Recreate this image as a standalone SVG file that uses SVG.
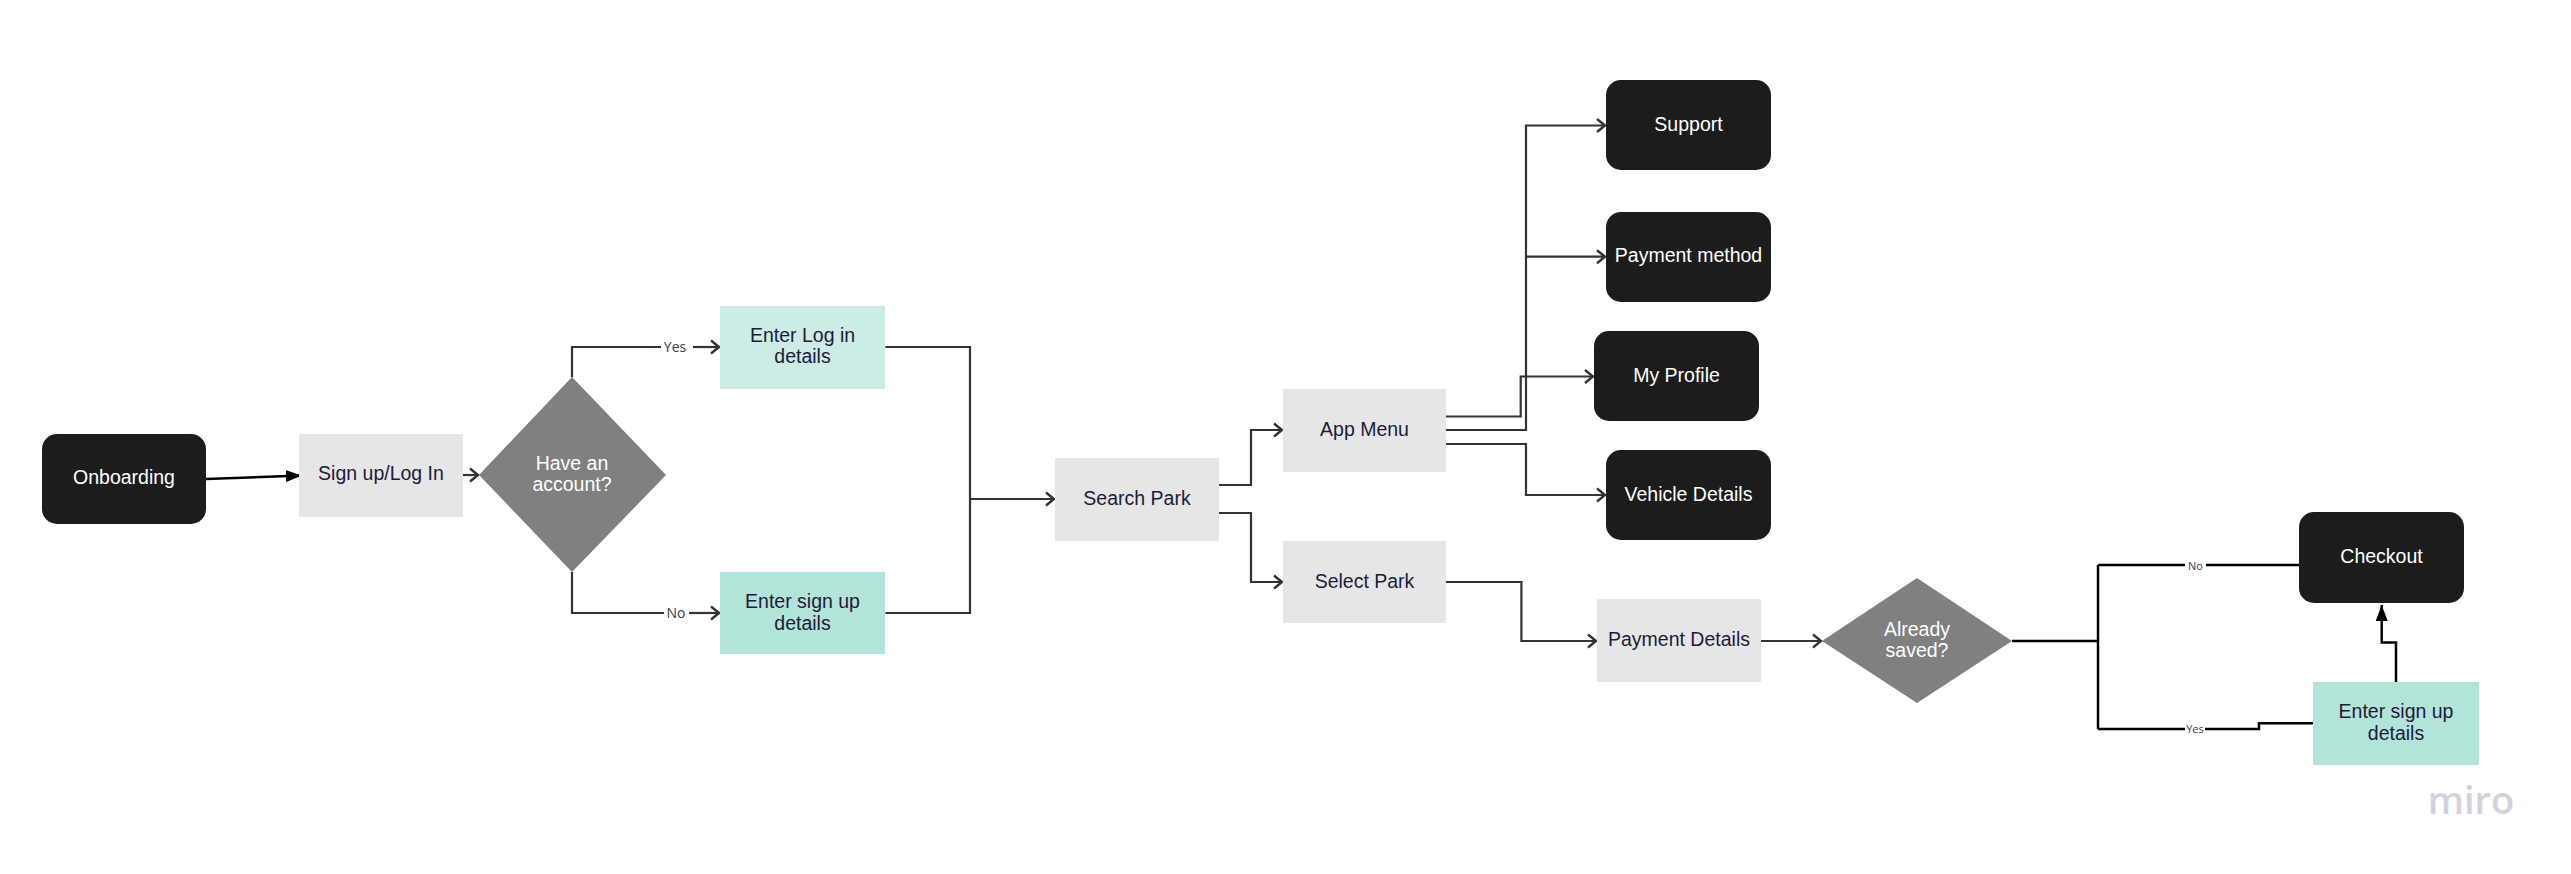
<svg xmlns="http://www.w3.org/2000/svg" width="2571" height="874" viewBox="0 0 2571 874">
<style>
  .lbl { font-family: "Liberation Sans", Arial, sans-serif; font-size: 19.5px; text-anchor: middle; }
  .w { fill: #ffffff; }
  .n { fill: #1c1b3b; }
  .dark { fill: #1c1c1c; }
  .grey { fill: #e6e6e6; }
  .teal1 { fill: #cdece5; }
  .teal2 { fill: #b3e4da; }
  .dia { fill: #808080; }
  .conn { fill: none; stroke: #333333; stroke-width: 2.2; }
  .bconn { fill: none; stroke: #000000; stroke-width: 2.5; }
  .elbl { font-family: "Open Sans", "Liberation Sans", sans-serif; fill: #3a3a4a; text-anchor: middle; }
</style>
<defs>
  <marker id="chev" markerWidth="14" markerHeight="16" refX="11" refY="8" orient="auto" markerUnits="userSpaceOnUse">
    <path d="M3,1.5 L11,8 L3,14.5" fill="none" stroke="#333333" stroke-width="2.4"/>
  </marker>
  <marker id="tri" markerWidth="18" markerHeight="14" refX="16" refY="7" orient="auto" markerUnits="userSpaceOnUse">
    <path d="M0,1 L16,7 L0,13 Z" fill="#000000"/>
  </marker>
</defs>
<rect width="2571" height="874" fill="#ffffff"/>

<g id="connectors">
  <path class="bconn" d="M206,479 L302,475.5" marker-end="url(#tri)"/>
  <path class="conn" d="M463,475 H478" marker-end="url(#chev)"/>
  <path class="conn" d="M572,377 V347 H661"/>
  <path class="conn" d="M693,347 H719" marker-end="url(#chev)"/>
  <path class="conn" d="M572,572 V613 H664"/>
  <path class="conn" d="M689,613 H719" marker-end="url(#chev)"/>
  <path class="conn" d="M885.5,347 H970 V613 H885.5"/>
  <path class="conn" d="M970,499 H1054" marker-end="url(#chev)"/>
  <path class="conn" d="M1219,485 H1251 V430 H1282" marker-end="url(#chev)"/>
  <path class="conn" d="M1219,513 H1251 V582 H1282" marker-end="url(#chev)"/>
  <path class="conn" d="M1446,416.5 H1520.7 V376.5 H1593" marker-end="url(#chev)"/>
  <path class="conn" d="M1446,430 H1526 V125.5 H1605" marker-end="url(#chev)"/>
  <path class="conn" d="M1526,256.7 H1605" marker-end="url(#chev)"/>
  <path class="conn" d="M1446,444 H1526 V495 H1605" marker-end="url(#chev)"/>
  <path class="conn" d="M1446,582 H1521.4 V641 H1596" marker-end="url(#chev)"/>
  <path class="conn" d="M1761,641 H1821" marker-end="url(#chev)"/>
  <path class="bconn" d="M2012,641 H2098"/>
  <path class="bconn" d="M2098,565 V729"/>
  <path class="bconn" d="M2098,565 H2185"/>
  <path class="bconn" d="M2206,565 H2299"/>
  <path class="bconn" d="M2098,729 H2185"/>
  <path class="bconn" d="M2205,729 H2259 V723.3 H2313"/>
  <path class="bconn" d="M2396,682 V642.5 H2381.7 V605" marker-end="url(#tri)"/>
  <text class="elbl" x="675" y="352" font-size="14">Yes</text>
  <text class="elbl" x="676" y="618" font-size="14">No</text>
  <text class="elbl" x="2195.5" y="569.5" font-size="11">No</text>
  <text class="elbl" x="2195" y="733" font-size="11">Yes</text>
</g>

<g id="onboarding">
  <rect class="dark" x="42" y="434" width="164" height="90" rx="15"/>
  <text class="lbl w" x="124" y="484">Onboarding</text>
</g>
<g id="signup-login">
  <rect class="grey" x="299" y="434" width="164" height="83"/>
  <text class="lbl n" x="381" y="480">Sign up/Log In</text>
</g>
<g id="have-account">
  <polygon class="dia" points="572,377 666,475 572,572 479,475"/>
  <text class="lbl w" x="572" y="470">Have an</text>
  <text class="lbl w" x="572" y="491">account?</text>
</g>
<g id="enter-login">
  <rect class="teal1" x="720" y="306" width="165" height="83"/>
  <text class="lbl n" x="802.5" y="342">Enter Log in</text>
  <text class="lbl n" x="802.5" y="363">details</text>
</g>
<g id="enter-signup">
  <rect class="teal2" x="720" y="572" width="165" height="82"/>
  <text class="lbl n" x="802.5" y="608">Enter sign up</text>
  <text class="lbl n" x="802.5" y="629.5">details</text>
</g>
<g id="search-park">
  <rect class="grey" x="1055" y="458" width="164" height="83"/>
  <text class="lbl n" x="1137" y="505">Search Park</text>
</g>
<g id="app-menu">
  <rect class="grey" x="1283" y="389" width="163" height="83"/>
  <text class="lbl n" x="1364.5" y="436">App Menu</text>
</g>
<g id="select-park">
  <rect class="grey" x="1283" y="541" width="163" height="82"/>
  <text class="lbl n" x="1364.5" y="588">Select Park</text>
</g>
<g id="support">
  <rect class="dark" x="1606" y="80" width="165" height="90" rx="15"/>
  <text class="lbl w" x="1688.5" y="131">Support</text>
</g>
<g id="payment-method">
  <rect class="dark" x="1606" y="212" width="165" height="90" rx="15"/>
  <text class="lbl w" x="1688.5" y="262">Payment method</text>
</g>
<g id="my-profile">
  <rect class="dark" x="1594" y="331" width="165" height="90" rx="15"/>
  <text class="lbl w" x="1676.5" y="382">My Profile</text>
</g>
<g id="vehicle-details">
  <rect class="dark" x="1606" y="450" width="165" height="90" rx="15"/>
  <text class="lbl w" x="1688.5" y="501">Vehicle Details</text>
</g>
<g id="payment-details">
  <rect class="grey" x="1597" y="599" width="164" height="83"/>
  <text class="lbl n" x="1679" y="646">Payment Details</text>
</g>
<g id="already-saved">
  <polygon class="dia" points="1917,578 2012,641 1917,703 1822,641"/>
  <text class="lbl w" x="1917" y="636">Already</text>
  <text class="lbl w" x="1917" y="657">saved?</text>
</g>
<g id="checkout">
  <rect class="dark" x="2299" y="512" width="165" height="91" rx="15"/>
  <text class="lbl w" x="2381.5" y="563">Checkout</text>
</g>
<g id="enter-signup-2">
  <rect class="teal2" x="2313" y="682" width="166" height="83"/>
  <text class="lbl n" x="2396" y="718">Enter sign up</text>
  <text class="lbl n" x="2396" y="739.5">details</text>
</g>
<g id="miro-logo">
  <text x="2471" y="814" font-family="'Open Sans', 'Liberation Sans', sans-serif" font-size="38" font-weight="600" fill="#d2d2dc" text-anchor="middle">miro</text>
</g>
</svg>
